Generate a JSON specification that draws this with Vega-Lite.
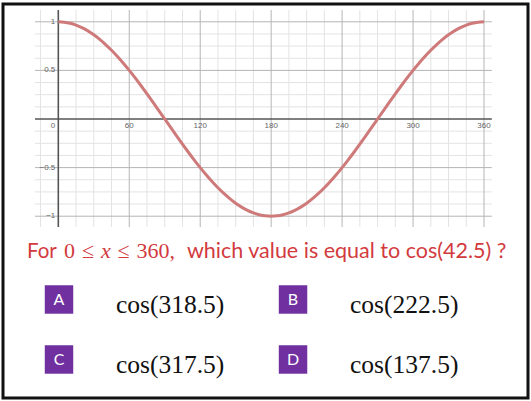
{
  "$schema": "https://vega.github.io/schema/vega-lite/v6.json",
  "width": 525,
  "height": 394,
  "padding": {"left": 3, "top": 4, "right": 3, "bottom": 3},
  "autosize": {"type": "none"},
  "background": "white",
  "config": {"view": {"stroke": "#111111", "strokeWidth": 3}, "axis": {"disable": true}},
  "datasets": {
    "curve": [
      {"x": 0, "y": 1}, {"x": 5, "y": 0.9962}, {"x": 10, "y": 0.9848}, {"x": 15, "y": 0.9659}, {"x": 20, "y": 0.9397}, {"x": 25, "y": 0.9063}, {"x": 30, "y": 0.866}, {"x": 35, "y": 0.8192}, {"x": 40, "y": 0.766}, {"x": 45, "y": 0.7071}, {"x": 50, "y": 0.6428}, {"x": 55, "y": 0.5736}, {"x": 60, "y": 0.5}, {"x": 65, "y": 0.4226}, {"x": 70, "y": 0.342}, {"x": 75, "y": 0.2588}, {"x": 80, "y": 0.1736}, {"x": 85, "y": 0.0872}, {"x": 90, "y": 0},
      {"x": 95, "y": -0.0872}, {"x": 100, "y": -0.1736}, {"x": 105, "y": -0.2588}, {"x": 110, "y": -0.342}, {"x": 115, "y": -0.4226}, {"x": 120, "y": -0.5}, {"x": 125, "y": -0.5736}, {"x": 130, "y": -0.6428}, {"x": 135, "y": -0.7071}, {"x": 140, "y": -0.766}, {"x": 145, "y": -0.8192}, {"x": 150, "y": -0.866}, {"x": 155, "y": -0.9063}, {"x": 160, "y": -0.9397}, {"x": 165, "y": -0.9659}, {"x": 170, "y": -0.9848}, {"x": 175, "y": -0.9962}, {"x": 180, "y": -1},
      {"x": 185, "y": -0.9962}, {"x": 190, "y": -0.9848}, {"x": 195, "y": -0.9659}, {"x": 200, "y": -0.9397}, {"x": 205, "y": -0.9063}, {"x": 210, "y": -0.866}, {"x": 215, "y": -0.8192}, {"x": 220, "y": -0.766}, {"x": 225, "y": -0.7071}, {"x": 230, "y": -0.6428}, {"x": 235, "y": -0.5736}, {"x": 240, "y": -0.5}, {"x": 245, "y": -0.4226}, {"x": 250, "y": -0.342}, {"x": 255, "y": -0.2588}, {"x": 260, "y": -0.1736}, {"x": 265, "y": -0.0872}, {"x": 270, "y": 0},
      {"x": 275, "y": 0.0872}, {"x": 280, "y": 0.1736}, {"x": 285, "y": 0.2588}, {"x": 290, "y": 0.342}, {"x": 295, "y": 0.4226}, {"x": 300, "y": 0.5}, {"x": 305, "y": 0.5736}, {"x": 310, "y": 0.6428}, {"x": 315, "y": 0.7071}, {"x": 320, "y": 0.766}, {"x": 325, "y": 0.8192}, {"x": 330, "y": 0.866}, {"x": 335, "y": 0.9063}, {"x": 340, "y": 0.9397}, {"x": 345, "y": 0.9659}, {"x": 350, "y": 0.9848}, {"x": 355, "y": 0.9962}, {"x": 360, "y": 1}
    ],
    "vgrid": [
      {"v": -15, "kind": "minor"}, {"v": 15, "kind": "minor"}, {"v": 30, "kind": "minor"}, {"v": 45, "kind": "minor"}, {"v": 75, "kind": "minor"}, {"v": 90, "kind": "minor"}, {"v": 105, "kind": "minor"}, {"v": 135, "kind": "minor"}, {"v": 150, "kind": "minor"}, {"v": 165, "kind": "minor"}, {"v": 195, "kind": "minor"}, {"v": 210, "kind": "minor"}, {"v": 225, "kind": "minor"}, {"v": 255, "kind": "minor"}, {"v": 270, "kind": "minor"}, {"v": 285, "kind": "minor"}, {"v": 315, "kind": "minor"}, {"v": 330, "kind": "minor"}, {"v": 345, "kind": "minor"},
      {"v": 60, "kind": "major"}, {"v": 120, "kind": "major"}, {"v": 180, "kind": "major"}, {"v": 240, "kind": "major"}, {"v": 300, "kind": "major"}, {"v": 360, "kind": "major"}
    ],
    "hgrid": [
      {"h": -0.875, "kind": "minor"}, {"h": -0.75, "kind": "minor"}, {"h": -0.625, "kind": "minor"}, {"h": -0.375, "kind": "minor"}, {"h": -0.25, "kind": "minor"}, {"h": -0.125, "kind": "minor"}, {"h": 0.125, "kind": "minor"}, {"h": 0.25, "kind": "minor"}, {"h": 0.375, "kind": "minor"}, {"h": 0.625, "kind": "minor"}, {"h": 0.75, "kind": "minor"}, {"h": 0.875, "kind": "minor"},
      {"h": -1, "kind": "major"}, {"h": -0.5, "kind": "major"}, {"h": 0.5, "kind": "major"}, {"h": 1, "kind": "major"}
    ],
    "xlabels": [
      {"v": 60, "t": "60"}, {"v": 120, "t": "120"}, {"v": 180, "t": "180"}, {"v": 240, "t": "240"}, {"v": 300, "t": "300"}, {"v": 360, "t": "360"}
    ],
    "ylabels": [
      {"h": 1, "t": "1"}, {"h": 0.5, "t": "0.5"}, {"h": -0.5, "t": "−0.5"}, {"h": -1, "t": "−1"}
    ],
    "options": [
      {"letter": "A", "choice": "cos(318.5)", "col": 1, "row": 1},
      {"letter": "B", "choice": "cos(222.5)", "col": 2, "row": 1},
      {"letter": "C", "choice": "cos(317.5)", "col": 1, "row": 2},
      {"letter": "D", "choice": "cos(137.5)", "col": 2, "row": 2}
    ]
  },
  "resolve": {"scale": {"x": "independent", "y": "independent"}},
  "layer": [
    {
      "layer": [
        {
          "data": {"name": "vgrid"},
          "transform": [{"filter": "datum.kind === 'minor'"}],
          "mark": {"type": "rule", "color": "#e3e3e3", "strokeWidth": 1},
          "encoding": {
            "x": {"field": "v", "type": "quantitative", "axis": null, "scale": {"domain": [-46.77, 397.2], "nice": false, "zero": false}},
            "y": {"datum": 1.121, "type": "quantitative", "axis": null, "scale": {"domain": [-2.87, 1.183], "nice": false, "zero": false}},
            "y2": {"datum": -1.111}
          }
        },
        {
          "data": {"name": "hgrid"},
          "transform": [{"filter": "datum.kind === 'minor'"}],
          "mark": {"type": "rule", "color": "#e3e3e3", "strokeWidth": 1},
          "encoding": {
            "y": {"field": "h", "type": "quantitative", "axis": null},
            "x": {"datum": -19.7, "type": "quantitative", "axis": null},
            "x2": {"datum": 366.6}
          }
        },
        {
          "data": {"name": "vgrid"},
          "transform": [{"filter": "datum.kind === 'major'"}],
          "mark": {"type": "rule", "color": "#b5b5b5", "strokeWidth": 1},
          "encoding": {
            "x": {"field": "v", "type": "quantitative", "axis": null},
            "y": {"datum": 1.121, "type": "quantitative", "axis": null},
            "y2": {"datum": -1.111}
          }
        },
        {
          "data": {"name": "hgrid"},
          "transform": [{"filter": "datum.kind === 'major'"}],
          "mark": {"type": "rule", "color": "#b5b5b5", "strokeWidth": 1},
          "encoding": {
            "y": {"field": "h", "type": "quantitative", "axis": null},
            "x": {"datum": -19.7, "type": "quantitative", "axis": null},
            "x2": {"datum": 366.6}
          }
        },
        {
          "data": {"values": [{}]},
          "mark": {"type": "rule", "color": "#555555", "strokeWidth": 1.6},
          "encoding": {
            "y": {"datum": 0, "type": "quantitative", "axis": null},
            "x": {"datum": -19.7, "type": "quantitative", "axis": null},
            "x2": {"datum": 366.6}
          }
        },
        {
          "data": {"values": [{}]},
          "mark": {"type": "rule", "color": "#555555", "strokeWidth": 1.6},
          "encoding": {
            "x": {"datum": 0, "type": "quantitative", "axis": null},
            "y": {"datum": 1.121, "type": "quantitative", "axis": null},
            "y2": {"datum": -1.111}
          }
        },
        {
          "data": {"name": "curve"},
          "mark": {"type": "line", "color": "#cf7a7a", "strokeWidth": 3, "interpolate": "monotone"},
          "encoding": {
            "x": {"field": "x", "type": "quantitative", "axis": null},
            "y": {"field": "y", "type": "quantitative", "axis": null}
          }
        },
        {
          "data": {"name": "xlabels"},
          "mark": {"type": "text", "font": "Liberation Sans", "fontSize": 8, "color": "#666666", "baseline": "top", "align": "center", "dy": 3},
          "encoding": {
            "x": {"field": "v", "type": "quantitative", "axis": null},
            "y": {"datum": 0, "type": "quantitative", "axis": null},
            "text": {"field": "t"}
          }
        },
        {
          "data": {"values": [{}]},
          "mark": {"type": "text", "font": "Liberation Sans", "fontSize": 8, "color": "#666666", "baseline": "top", "align": "right", "dy": 3, "dx": -3, "text": "0"},
          "encoding": {
            "x": {"datum": 0, "type": "quantitative", "axis": null},
            "y": {"datum": 0, "type": "quantitative", "axis": null}
          }
        },
        {
          "data": {"name": "ylabels"},
          "mark": {"type": "text", "font": "Liberation Sans", "fontSize": 8, "color": "#666666", "baseline": "middle", "align": "right", "dx": -3},
          "encoding": {
            "y": {"field": "h", "type": "quantitative", "axis": null},
            "x": {"datum": 0, "type": "quantitative", "axis": null},
            "text": {"field": "t"}
          }
        },
        {
          "data": {"values": [{}]},
          "mark": {"type": "text", "font": "Lato", "fontSize": 20.5, "color": "#d23a3e", "baseline": "alphabetic", "align": "left", "text": "For"},
          "encoding": {
            "x": {"datum": -26.5, "type": "quantitative", "axis": null},
            "y": {"datum": -1.43, "type": "quantitative", "axis": null}
          }
        },
        {
          "data": {"values": [{}]},
          "mark": {"type": "text", "font": "Liberation Serif", "fontSize": 22, "color": "#d23a3e", "baseline": "alphabetic", "align": "left", "text": "0"},
          "encoding": {
            "x": {"datum": 4.82, "type": "quantitative", "axis": null},
            "y": {"datum": -1.43, "type": "quantitative", "axis": null}
          }
        },
        {
          "data": {"values": [{}]},
          "mark": {"type": "text", "font": "Liberation Serif", "fontSize": 22, "color": "#d23a3e", "baseline": "alphabetic", "align": "left", "text": "≤"},
          "encoding": {
            "x": {"datum": 19.96, "type": "quantitative", "axis": null},
            "y": {"datum": -1.43, "type": "quantitative", "axis": null}
          }
        },
        {
          "data": {"values": [{}]},
          "mark": {"type": "text", "font": "Liberation Serif", "fontSize": 22, "fontStyle": "italic", "color": "#d23a3e", "baseline": "alphabetic", "align": "left", "text": "x"},
          "encoding": {
            "x": {"datum": 36.03, "type": "quantitative", "axis": null},
            "y": {"datum": -1.43, "type": "quantitative", "axis": null}
          }
        },
        {
          "data": {"values": [{}]},
          "mark": {"type": "text", "font": "Liberation Serif", "fontSize": 22, "color": "#d23a3e", "baseline": "alphabetic", "align": "left", "text": "≤"},
          "encoding": {
            "x": {"datum": 50.15, "type": "quantitative", "axis": null},
            "y": {"datum": -1.43, "type": "quantitative", "axis": null}
          }
        },
        {
          "data": {"values": [{}]},
          "mark": {"type": "text", "font": "Liberation Serif", "fontSize": 22, "color": "#d23a3e", "baseline": "alphabetic", "align": "left", "text": "360,"},
          "encoding": {
            "x": {"datum": 66.2, "type": "quantitative", "axis": null},
            "y": {"datum": -1.43, "type": "quantitative", "axis": null}
          }
        },
        {
          "data": {"values": [{}]},
          "mark": {"type": "text", "font": "Lato", "fontSize": 21.5, "color": "#d23a3e", "baseline": "alphabetic", "align": "left", "text": "which value is equal to cos(42.5) ?"},
          "encoding": {
            "x": {"datum": 108.8, "type": "quantitative", "axis": null},
            "y": {"datum": -1.43, "type": "quantitative", "axis": null}
          }
        }
      ]
    },
    {
      "data": {"name": "options"},
      "encoding": {
        "x": {"field": "col", "type": "quantitative", "axis": null, "scale": {"domain": [0.7607, 3.004], "nice": false, "zero": false}},
        "y": {"field": "row", "type": "quantitative", "axis": null, "scale": {"domain": [-3.925, 2.642], "nice": false, "zero": false, "reverse": true}}
      },
      "layer": [
        {"mark": {"type": "square", "color": "#7030a0", "opacity": 1, "size": 810, "filled": true}},
        {"mark": {"type": "text", "font": "Lato", "fontSize": 16, "color": "white", "align": "center", "baseline": "middle", "dy": 1}, "encoding": {"text": {"field": "letter"}}},
        {"mark": {"type": "text", "font": "Liberation Serif", "fontSize": 25.5, "color": "#111111", "align": "left", "baseline": "alphabetic", "dx": 57, "dy": 14}, "encoding": {"text": {"field": "choice"}}}
      ]
    }
  ]
}
